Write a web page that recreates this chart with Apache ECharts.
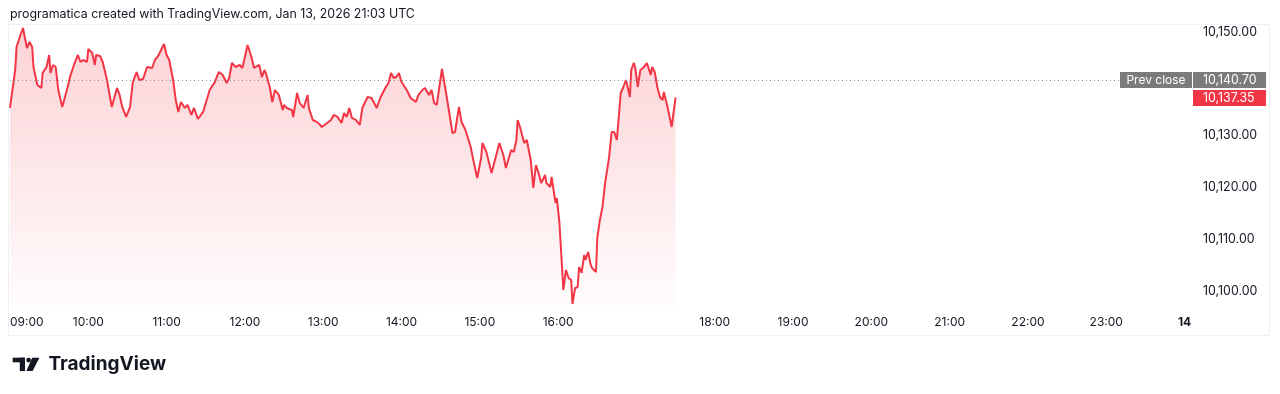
<!DOCTYPE html>
<html>
<head>
<meta charset="utf-8">
<script src="https://cdn.jsdelivr.net/npm/echarts@6/dist/echarts.min.js"></script>
<style>
html,body{margin:0;padding:0;background:#ffffff;}
#c{width:1280px;height:394px;}
</style>
</head>
<body>
<div id="c"></div>
<script>
// ---- data (minutes after 09:00, price) ----
const minutes = [0,4,5,8,10,11,13,15,17,18,19,21,24,25,28,30,31,33,35,37,40,41,44,46,49,52,54,56,59,60,63,65,66,69,71,74,78,82,84,86,89,92,94,97,99,102,105,109,111,113,115,118,120,122,125,127,129,131,134,136,139,141,144,148,153,157,160,163,166,168,170,173,176,178,180,182,185,187,191,193,195,196,199,201,203,206,209,210,212,216,217,220,222,225,228,229,232,235,237,239,242,246,248,251,254,256,258,260,262,265,268,270,274,277,279,281,284,288,290,292,294,296,298,300,304,307,311,313,316,318,321,323,325,327,331,334,336,339,341,344,346,349,353,355,358,361,362,365,369,372,375,378,380,384,386,388,389,391,394,396,399,401,403,405,407,410,411,414,415,418,419,421,423,424,426,428,430,431,433,435,436,438,440,441,443,445,446,449,450,452,454,456,459,461,463,465,468,470,472,475,476,478,479,481,483,485,487,488,491,492,494,496,498,500,501,502,504,507,508,510];
const prices = [10135.33,10142.66,10147.10,10149.42,10150.77,10149.42,10146.91,10148.07,10147.10,10143.24,10143.24,10139.77,10139.19,10142.08,10143.24,10145.56,10142.08,10143.63,10143.24,10138.80,10135.52,10135.71,10139.19,10141.31,10143.63,10145.56,10144.21,10144.59,10144.21,10146.72,10145.95,10143.63,10145.56,10145.37,10144.21,10141.12,10135.52,10139.19,10137.84,10135.52,10133.59,10135.52,10140.15,10142.28,10140.73,10140.93,10143.24,10143.05,10144.59,10145.17,10146.14,10147.68,10145.56,10144.59,10140.73,10136.87,10134.56,10136.49,10135.33,10135.91,10133.98,10135.33,10133.20,10134.56,10138.80,10140.35,10142.28,10141.70,10140.15,10141.12,10144.02,10143.24,10143.63,10143.05,10145.17,10147.49,10145.17,10143.05,10143.63,10141.31,10142.66,10142.08,10139.38,10136.49,10138.80,10137.84,10134.94,10135.91,10135.33,10134.94,10133.59,10138.22,10136.29,10135.33,10137.84,10135.33,10133.01,10132.63,10132.24,10131.66,10132.24,10133.01,10133.98,10133.59,10132.43,10134.36,10133.59,10135.33,10133.40,10133.01,10132.05,10135.33,10137.45,10137.26,10136.29,10135.33,10137.45,10139.38,10140.15,10142.08,10141.12,10141.31,10142.08,10140.35,10138.80,10137.26,10136.49,10137.84,10138.80,10139.19,10137.84,10138.80,10136.29,10135.91,10142.86,10138.42,10135.33,10130.50,10130.69,10135.52,10132.63,10131.08,10127.80,10125.29,10121.81,10125.68,10128.57,10126.83,10122.78,10125.68,10128.57,10126.25,10123.75,10127.22,10126.83,10129.15,10133.01,10131.47,10128.57,10129.15,10125.29,10119.88,10124.32,10122.78,10120.85,10122.39,10120.85,10120.08,10122.01,10116.99,10117.95,10113.13,10104.63,10100.19,10104.05,10102.51,10102.12,10097.49,10100.58,10100.77,10104.63,10103.47,10106.95,10105.98,10107.53,10105.02,10104.44,10103.67,10110.23,10113.71,10116.22,10120.85,10125.68,10130.69,10130.69,10129.15,10138.22,10139.38,10140.73,10137.45,10142.66,10144.02,10143.24,10139.38,10142.66,10143.05,10143.63,10144.02,10141.70,10143.24,10142.28,10139.38,10137.45,10136.87,10138.42,10138.80,10135.33,10131.66,10133.59,10137.35];
const prevClose = 10140.70;
const lastPrice = 10137.35;
const priceTicks = [10100, 10110, 10120, 10130, 10150];
const timeTicks = [0, 60, 120, 180, 240, 300, 360, 420, 540, 600, 660, 720, 780, 840, 900];
const timeLabels = ['09:00','10:00','11:00','12:00','13:00','14:00','15:00','16:00','18:00','19:00','20:00','21:00','22:00','23:00','14'];
const headerText = 'programatica created with TradingView.com, Jan 13, 2026 21:03 UTC';
const prevCloseLabel = 'Prev close';
const brandText = 'TradingView';
const yMin = 10096.9, yMax = 10151.35;
const xMin = 0, xMax = 905.7;

// ---- chart ----
const FONT = 'Inter, "Noto Sans", sans-serif';
const TXT = '#131722';
const RED = '#F23645';
const fmtPrice = v => v.toLocaleString('en-US', {minimumFractionDigits: 2, maximumFractionDigits: 2});

const chart = echarts.init(document.getElementById('c'), null, {renderer: 'canvas'});
const option = {
  animation: false,
  backgroundColor: '#ffffff',
  grid: {left: 10, right: 88, top: 25, bottom: 87},
  xAxis: {
    type: 'value', min: xMin, max: xMax,
    axisLine: {show: false}, axisTick: {show: false}, splitLine: {show: false},
    axisLabel: {
      customValues: timeTicks,
      alignMinLabel: 'left',
      margin: 9,
      color: TXT, fontFamily: FONT, fontSize: 12,
      formatter: v => {
        const i = timeTicks.indexOf(v);
        const s = i >= 0 ? timeLabels[i] : '';
        return s.indexOf(':') < 0 ? '{b|' + s + '}' : s;
      },
      rich: {b: {fontWeight: 'bold', fontFamily: FONT, fontSize: 12, color: TXT}}
    }
  },
  yAxis: {
    type: 'value', position: 'right', min: yMin, max: yMax, scale: true,
    axisLine: {show: false}, axisTick: {show: false}, splitLine: {show: false},
    axisLabel: {
      customValues: priceTicks,
      margin: 11,
      color: TXT, fontFamily: FONT, fontSize: 12.4,
      formatter: v => fmtPrice(v)
    }
  },
  series: [{
    type: 'line',
    data: minutes.map((m, i) => [m, prices[i]]),
    showSymbol: false,
    symbol: 'none',
    lineStyle: {color: RED, width: 2},
    areaStyle: {
      origin: 'start',
      color: new echarts.graphic.LinearGradient(0, 0, 0, 1, [
        {offset: 0, color: 'rgba(242,54,69,0.32)'},
        {offset: 1, color: 'rgba(242,54,69,0.02)'}
      ])
    },
    markLine: {
      silent: true, symbol: 'none', animation: false,
      label: {show: false},
      lineStyle: {type: [1, 3], color: '#8e9199', width: 1},
      data: [{yAxis: prevClose}]
    }
  }]
};
chart.setOption(option);

const yPrev = chart.convertToPixel({yAxisIndex: 0}, prevClose);
const yLast = chart.convertToPixel({yAxisIndex: 0}, lastPrice);
const xRight = chart.convertToPixel({xAxisIndex: 0}, xMax);
const boxH = 16;
const prevTop = Math.round(yPrev - boxH / 2);
const lastTop = Math.max(Math.round(yLast - boxH / 2), prevTop + boxH + 2);

chart.setOption({
  graphic: [
    // frame
    {type: 'rect', z: 0, silent: true, shape: {x: 8.5, y: 24.5, width: 1261, height: 311},
     style: {fill: 'none', stroke: '#eef0f3', lineWidth: 1}},
    // header
    {type: 'text', x: 10, y: 14.6, silent: true,
     style: {text: headerText, fill: TXT, font: '12.4px ' + FONT, verticalAlign: 'middle', align: 'left'}},
    // prev close label
    {type: 'rect', z: 10, silent: true, shape: {x: xRight - 72, y: prevTop, width: 72, height: boxH},
     style: {fill: '#7b7b7e'}},
    {type: 'text', z: 11, silent: true, x: xRight - 36, y: prevTop + boxH / 2,
     style: {text: prevCloseLabel, fill: '#ffffff', font: '12px ' + FONT, align: 'center', verticalAlign: 'middle'}},
    {type: 'rect', z: 10, silent: true, shape: {x: xRight + 1, y: prevTop, width: 73, height: boxH},
     style: {fill: '#7b7b7e'}},
    {type: 'text', z: 11, silent: true, x: xRight + 11, y: prevTop + boxH / 2,
     style: {text: fmtPrice(prevClose), fill: '#ffffff', font: '12.4px ' + FONT, align: 'left', verticalAlign: 'middle'}},
    // last price label
    {type: 'rect', z: 10, silent: true, shape: {x: xRight + 1, y: lastTop, width: 73, height: boxH},
     style: {fill: RED}},
    {type: 'text', z: 11, silent: true, x: xRight + 11, y: lastTop + boxH / 2,
     style: {text: fmtPrice(lastPrice), fill: '#ffffff', font: '12.4px ' + FONT, align: 'left', verticalAlign: 'middle'}},
    // TradingView logo
    {type: 'rect', silent: true, shape: {x: 12.7, y: 357.7, width: 12.3, height: 4.6}, style: {fill: TXT}},
    {type: 'rect', silent: true, shape: {x: 19.8, y: 357.7, width: 5.2, height: 13.4}, style: {fill: TXT}},
    {type: 'circle', silent: true, shape: {cx: 28.6, cy: 360.1, r: 2.4}, style: {fill: TXT}},
    {type: 'polygon', silent: true, shape: {points: [[32.2, 357.7], [39.4, 357.7], [32.6, 371.1], [26.4, 371.1]]}, style: {fill: TXT}},
    {type: 'text', silent: true, x: 48.5, y: 364.4,
     style: {text: brandText, fill: TXT, font: '700 19px ' + FONT, align: 'left', verticalAlign: 'middle'}}
  ]
});
</script>
</body>
</html>
